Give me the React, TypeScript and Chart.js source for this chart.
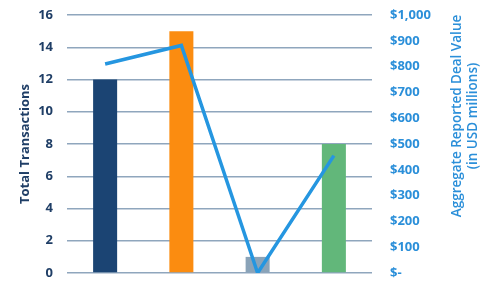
import React, { useEffect, useRef } from "react";
import { Chart, registerables } from "chart.js";

Chart.register(...registerables);

const categories = ["A", "B", "C", "D"];
const transactions = [12, 15, 1, 8];
const dealValue = [810, 882, 0, 455];
const barColors = ["#1b4473", "#fb8c10", "#8aa3b8", "#62b77a"];
const leftTitle = "Total Transactions";
const rightTitleLines = ["Aggregate Reported Deal Value", "(in USD millions)"];
const rightTickLabels: Record<number, string> = {
  0: "$-", 100: "$100", 200: "$200", 300: "$300", 400: "$400", 500: "$500",
  600: "$600", 700: "$700", 800: "$800", 900: "$900", 1000: "$1,000",
};

const FONT = "'Open Sans', 'DejaVu Sans', sans-serif";

const rightTitlePlugin = {
  id: "rightTitle",
  afterDraw(chart: any) {
    const ctx = chart.ctx;
    const area = chart.chartArea;
    ctx.save();
    ctx.fillStyle = "#2b8fd9";
    ctx.font = `600 13.5px ${FONT}`;
    ctx.textAlign = "center";
    ctx.textBaseline = "middle";
    const cy = area.top + 101;
    const xs = [457, 473];
    rightTitleLines.forEach((t, i) => {
      ctx.save();
      ctx.translate(xs[i], cy);
      ctx.rotate(-Math.PI / 2);
      ctx.fillText(t, 0, 0);
      ctx.restore();
    });
    ctx.restore();
  },
};

export default function App() {
  const ref = useRef<HTMLCanvasElement>(null);
  useEffect(() => {
    const chart = new Chart(ref.current!, {
      type: "bar",
      data: {
        labels: categories,
        datasets: [
          {
            type: "line",
            data: dealValue,
            yAxisID: "y1",
            borderColor: "#2596e0",
            borderWidth: 3.5,
            pointRadius: 0,
            tension: 0,
            order: 0,
            borderCapStyle: "butt",
          } as any,
          {
            type: "bar",
            data: transactions,
            yAxisID: "y",
            backgroundColor: barColors,
            categoryPercentage: 1,
            barPercentage: 0.315,
            order: 1,
          },
        ],
      },
      options: {
        responsive: false,
        animation: false,
        layout: { padding: { top: 15, bottom: 15, left: 0, right: 0 } },
        plugins: { legend: { display: false }, tooltip: { enabled: false } },
        scales: {
          x: { display: false, offset: true },
          y: {
            position: "left",
            min: 0,
            max: 16,
            border: { display: false },
            grid: { color: "#8fa6bd", lineWidth: 1.5, drawTicks: false },
            ticks: {
              stepSize: 2,
              padding: 14,
              color: "#1f3e66",
              font: { family: FONT, size: 13, weight: "bold" },
            },
            title: {
              display: true,
              text: leftTitle,
              color: "#1f3e66",
              font: { family: FONT, size: 13, weight: "bold" },
              padding: { top: 17, bottom: 0 },
            },
            afterFit(scale: any) { scale.width = 67; scale.paddingTop = 0; scale.paddingBottom = 0; },
          },
          y1: {
            position: "right",
            min: 0,
            max: 1000,
            border: { display: false },
            grid: { display: false, drawTicks: false },
            ticks: {
              stepSize: 100,
              padding: 18,
              color: "#2b8fd9",
              font: { family: FONT, size: 13, weight: "bold" },
              callback: (v: any) => rightTickLabels[v as number] ?? "",
            },
            afterFit(scale: any) { scale.width = 121; scale.paddingTop = 0; scale.paddingBottom = 0; },
          },
        },
      } as any,
      plugins: [rightTitlePlugin],
    });
    return () => chart.destroy();
  }, []);
  return (
    <div style={{ position: "fixed", left: 0, top: 0, width: 493, height: 288, background: "#fff" }}>
      <canvas ref={ref} width={493} height={288} />
    </div>
  );
}
